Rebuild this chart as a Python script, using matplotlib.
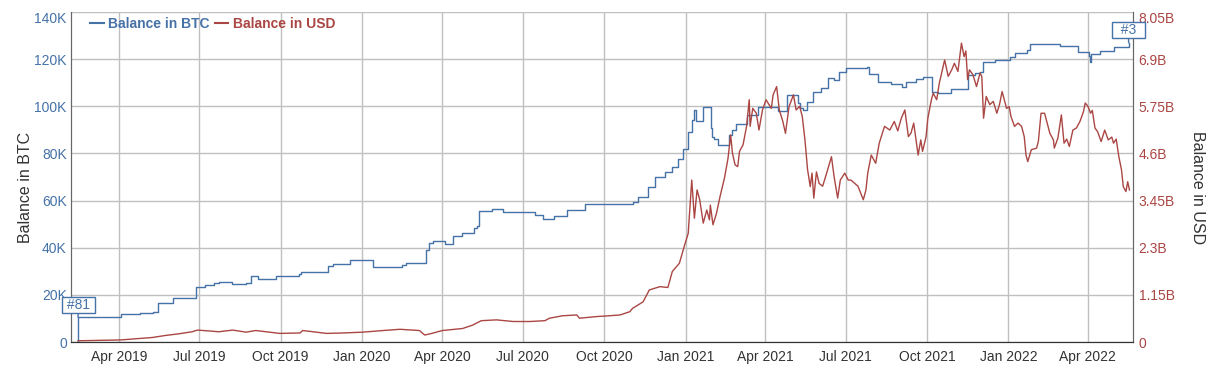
import pandas as pd
import matplotlib
matplotlib.use("Agg")
import matplotlib.pyplot as plt
from matplotlib.dates import MonthLocator, DateFormatter
from matplotlib.ticker import FuncFormatter
from matplotlib.lines import Line2D

plt.rcParams['font.family'] = ['Liberation Sans', 'DejaVu Sans']

# wallet balance in BTC (step changes)
btc_dates = [
    '2019-02-13', '2019-02-14', '2019-03-10', '2019-04-03', '2019-04-25', '2019-05-10', '2019-05-15',
    '2019-06-01', '2019-06-27', '2019-07-07', '2019-07-18', '2019-07-23', '2019-08-07', '2019-08-23',
    '2019-08-29', '2019-09-05', '2019-09-26', '2019-10-22', '2019-10-24', '2019-11-24', '2019-11-29',
    '2019-12-18', '2020-01-14', '2020-02-15', '2020-02-20', '2020-03-13', '2020-03-17', '2020-03-21',
    '2020-04-04', '2020-04-13', '2020-04-23', '2020-05-07', '2020-05-10', '2020-05-12', '2020-05-27',
    '2020-06-09', '2020-07-15', '2020-07-24', '2020-08-05', '2020-08-20', '2020-09-09', '2020-11-03',
    '2020-11-08', '2020-11-19', '2020-11-28', '2020-12-09', '2020-12-17', '2020-12-24', '2020-12-29',
    '2021-01-04', '2021-01-08', '2021-01-10', '2021-01-13', '2021-01-21', '2021-01-30', '2021-01-31',
    '2021-02-02', '2021-02-07', '2021-02-19', '2021-02-23', '2021-02-27', '2021-03-11', '2021-03-24',
    '2021-04-15', '2021-04-26', '2021-05-08', '2021-05-10', '2021-05-14', '2021-05-18', '2021-05-25',
    '2021-06-03', '2021-06-11', '2021-06-18', '2021-06-24', '2021-07-02', '2021-07-14', '2021-07-25',
    '2021-07-27', '2021-08-07', '2021-08-21', '2021-09-03', '2021-09-07', '2021-09-19', '2021-09-26',
    '2021-10-07', '2021-10-13', '2021-10-28', '2021-11-16', '2021-11-24', '2021-11-30', '2021-12-03',
    '2021-12-17', '2022-01-03', '2022-01-09', '2022-01-22', '2022-01-25', '2022-03-01', '2022-03-21',
    '2022-04-02', '2022-04-03', '2022-04-04', '2022-04-05', '2022-04-15', '2022-04-30', '2022-05-17',
]
btc_values = [
    0, 10500, 10800, 11800, 12300, 12900, 16500,
    18500, 23500, 24100, 24900, 25600, 24500, 24900,
    28100, 26600, 28100, 28700, 29700, 32200, 33100,
    34800, 31900, 32600, 33600, 39000, 42100, 43000,
    41600, 45000, 46100, 48200, 49200, 55700, 56300,
    55300, 53800, 52200, 53500, 56000, 58600, 59500,
    61400, 65900, 70100, 72300, 74400, 77500, 81800,
    89200, 94000, 98400, 93900, 99600, 91000, 87100,
    86000, 83600, 87800, 90000, 92500, 96300, 99600,
    98000, 104800, 101500, 99300, 98400, 102000, 106200,
    107600, 111900, 111200, 114700, 116100, 116400, 116600,
    113600, 110500, 109300, 108100, 110500, 111500, 112600,
    106200, 105500, 107200, 113300, 114000, 114700, 118800,
    119700, 120900, 122600, 123900, 126400, 125600, 123200,
    121300, 118900, 121300, 122200, 123600, 125300, 127000,
]

# wallet balance in USD (billions)
usd_dates = [
    '2019-02-14', '2019-04-03', '2019-05-09', '2019-05-24', '2019-06-08', '2019-06-23', '2019-06-29',
    '2019-07-12', '2019-07-23', '2019-08-08', '2019-08-23', '2019-09-03', '2019-09-15', '2019-09-30',
    '2019-10-23', '2019-10-26', '2019-11-22', '2019-12-10', '2020-01-02', '2020-01-25', '2020-02-13',
    '2020-03-06', '2020-03-12', '2020-03-20', '2020-04-01', '2020-04-24', '2020-05-05', '2020-05-15',
    '2020-06-01', '2020-06-20', '2020-07-09', '2020-07-26', '2020-07-31', '2020-08-15', '2020-08-31',
    '2020-09-03', '2020-09-22', '2020-10-07', '2020-10-19', '2020-10-30', '2020-11-02', '2020-11-14',
    '2020-11-21', '2020-12-03', '2020-12-12', '2020-12-17', '2020-12-25', '2020-12-31', '2021-01-04',
    '2021-01-08', '2021-01-11', '2021-01-14', '2021-01-17', '2021-01-21', '2021-01-25', '2021-01-28',
    '2021-01-29', '2021-02-01', '2021-02-05', '2021-02-09', '2021-02-14', '2021-02-18', '2021-02-21',
    '2021-02-23', '2021-02-26', '2021-03-01', '2021-03-03', '2021-03-07', '2021-03-11', '2021-03-14',
    '2021-03-15', '2021-03-18', '2021-03-22', '2021-03-25', '2021-03-29', '2021-04-02', '2021-04-08',
    '2021-04-10', '2021-04-14', '2021-04-17', '2021-04-21', '2021-04-24', '2021-04-28', '2021-05-03',
    '2021-05-06', '2021-05-10', '2021-05-13', '2021-05-16', '2021-05-19', '2021-05-22', '2021-05-24',
    '2021-05-26', '2021-05-29', '2021-06-01', '2021-06-05', '2021-06-09', '2021-06-15', '2021-06-18',
    '2021-06-22', '2021-06-25', '2021-06-30', '2021-07-04', '2021-07-07', '2021-07-15', '2021-07-21',
    '2021-07-24', '2021-07-26', '2021-07-30', '2021-08-04', '2021-08-08', '2021-08-14', '2021-08-20',
    '2021-08-25', '2021-08-29', '2021-09-02', '2021-09-06', '2021-09-10', '2021-09-13', '2021-09-16',
    '2021-09-21', '2021-09-24', '2021-09-26', '2021-09-30', '2021-10-02', '2021-10-06', '2021-10-08',
    '2021-10-12', '2021-10-15', '2021-10-21', '2021-10-25', '2021-10-29', '2021-11-01', '2021-11-05',
    '2021-11-09', '2021-11-12', '2021-11-14', '2021-11-16', '2021-11-18', '2021-11-22', '2021-11-26',
    '2021-11-30', '2021-12-02', '2021-12-04', '2021-12-07', '2021-12-11', '2021-12-15', '2021-12-19',
    '2021-12-22', '2021-12-25', '2021-12-30', '2022-01-02', '2022-01-04', '2022-01-08', '2022-01-12',
    '2022-01-16', '2022-01-19', '2022-01-21', '2022-01-23', '2022-01-27', '2022-02-02', '2022-02-04',
    '2022-02-07', '2022-02-11', '2022-02-14', '2022-02-17', '2022-02-21', '2022-02-22', '2022-02-26',
    '2022-03-02', '2022-03-05', '2022-03-08', '2022-03-11', '2022-03-15', '2022-03-19', '2022-03-23',
    '2022-03-27', '2022-03-29', '2022-04-01', '2022-04-04', '2022-04-06', '2022-04-09', '2022-04-12',
    '2022-04-16', '2022-04-20', '2022-04-24', '2022-04-28', '2022-04-30', '2022-05-03', '2022-05-06',
    '2022-05-09', '2022-05-11', '2022-05-14', '2022-05-16', '2022-05-18',
]
usd_values = [
    0.03, 0.05, 0.11, 0.16, 0.20, 0.25, 0.29,
    0.27, 0.25, 0.29, 0.24, 0.28, 0.25, 0.21,
    0.22, 0.28, 0.21, 0.22, 0.24, 0.28, 0.31,
    0.28, 0.17, 0.21, 0.28, 0.33, 0.41, 0.52,
    0.54, 0.50, 0.50, 0.52, 0.58, 0.64, 0.66,
    0.58, 0.62, 0.64, 0.66, 0.74, 0.82, 0.98,
    1.27, 1.35, 1.33, 1.72, 1.92, 2.37, 2.65,
    3.95, 3.02, 3.71, 3.47, 2.90, 3.22, 2.98,
    3.34, 2.86, 3.14, 3.55, 4.00, 4.48, 5.05,
    4.61, 4.32, 4.28, 4.65, 4.81, 5.26, 5.91,
    5.26, 5.70, 5.58, 5.17, 5.66, 5.91, 5.70,
    6.03, 6.23, 5.66, 5.38, 5.09, 5.74, 6.03,
    5.66, 5.75, 5.50, 4.93, 4.20, 3.79, 4.12,
    3.51, 4.15, 3.87, 3.80, 4.08, 4.52, 4.03,
    3.51, 3.95, 4.12, 3.95, 3.95, 3.80, 3.47,
    3.71, 4.12, 4.56, 4.36, 4.85, 5.26, 5.17,
    5.38, 5.15, 5.46, 5.66, 5.01, 5.10, 5.34,
    4.56, 4.93, 4.65, 5.01, 5.46, 5.91, 6.07,
    5.91, 6.32, 6.88, 6.48, 6.64, 6.80, 6.60,
    7.29, 6.96, 7.10, 6.40, 6.64, 6.52, 6.23,
    6.56, 6.48, 5.46, 5.99, 5.79, 5.87, 5.58,
    5.79, 6.11, 5.70, 5.74, 5.50, 5.26, 5.34,
    5.26, 5.01, 4.56, 4.40, 4.69, 4.73, 4.90,
    5.58, 5.58, 5.34, 5.09, 4.93, 4.73, 4.97,
    5.54, 4.85, 4.95, 4.77, 5.17, 5.22, 5.38,
    5.62, 5.83, 5.75, 5.58, 5.65, 5.22, 5.13,
    4.89, 5.17, 4.93, 5.00, 4.85, 4.95, 4.52,
    4.20, 3.79, 3.67, 3.91, 3.71,
]

btc_ticks = [0, 20000, 40000, 60000, 80000, 100000, 120000, 140000]
usd_ticks_b = [0, 1.15, 2.3, 3.45, 4.6, 5.75, 6.9, 8.05]
flag_labels = [' #81 ', '  #3  ']

blue = '#4572A7'
red = '#AA4643'
grid_c = '#c0c0c0'

btc_x = pd.to_datetime(btc_dates)
usd_x = pd.to_datetime(usd_dates)
usd_y = [v * 1e9 for v in usd_values]

fig = plt.figure(figsize=(12.11, 3.74), dpi=100)
ax = fig.add_axes([71 / 1211, 32 / 374, 1062 / 1211, 330 / 374])
ax2 = ax.twinx()

ax.plot(btc_x, btc_values, color=blue, lw=1.0, drawstyle='steps-post', zorder=3)
ax2.plot(usd_x, usd_y, color=red, lw=1.0, zorder=3)

ax.set_xlim(pd.Timestamp('2019-02-06'), pd.Timestamp('2022-05-22'))
ax.set_ylim(0, btc_ticks[-1])
ax2.set_ylim(0, usd_ticks_b[-1] * 1e9)
ax.set_yticks(btc_ticks)
ax2.set_yticks([t * 1e9 for t in usd_ticks_b])
ax.yaxis.set_major_formatter(FuncFormatter(lambda v, p: '0' if v == 0 else f'{v / 1000:.0f}K'))
ax2.yaxis.set_major_formatter(FuncFormatter(lambda v, p: '0' if v == 0 else f'{round(v / 1e9, 2):g}B'))

ax.xaxis.set_major_locator(MonthLocator(bymonth=[1, 4, 7, 10]))
ax.xaxis.set_major_formatter(DateFormatter('%b %Y'))

ax.grid(True, color=grid_c, lw=1.0)
ax.set_axisbelow(True)
ax.tick_params(axis='x', length=0, pad=6, labelsize=10, labelcolor='#333333')
ax.tick_params(axis='y', length=0, pad=3, labelsize=10, labelcolor=blue)
ax2.tick_params(axis='y', length=0, pad=4, labelsize=10, labelcolor=red)

for a in (ax, ax2):
    a.spines['top'].set_visible(False)
    a.spines['left'].set_color('#666666')
    a.spines['right'].set_color('#666666')
    a.spines['bottom'].set_color('#333333')

# top tick labels sit inside the plot height
ax.get_yticklabels()[-1].set_va('top')
ax2.get_yticklabels()[-1].set_va('top')

ax.set_ylabel('Balance in BTC', fontsize=11.5, color='#333333', va='center')
ax.yaxis.set_label_coords(-0.0433, 0.467)
ax2.set_ylabel('Balance in USD', fontsize=11.5, color='#333333', rotation=-90, va='center')
ax2.yaxis.set_label_coords(1.0603, 0.468)

handles = [Line2D([], [], color=blue, lw=1.5), Line2D([], [], color=red, lw=1.5)]
leg = ax.legend(handles, ['Balance in BTC', 'Balance in USD'], loc='center left',
                bbox_to_anchor=(0.018, 0.9636), ncol=2, frameon=False, handlelength=1.0,
                handletextpad=0.3, columnspacing=0.35, borderaxespad=0, borderpad=0,
                prop={'weight': 'bold', 'size': 10})
for t, c in zip(leg.get_texts(), [blue, red]):
    t.set_color(c)

# flags on the first and last BTC points
for lbl, xi, yi in [(flag_labels[0], btc_x[1], btc_values[1]), (flag_labels[1], btc_x[-1], btc_values[-1])]:
    ax2.annotate(lbl, xy=(xi, yi * ax2.get_ylim()[1] / ax.get_ylim()[1]), xytext=(0, 9),
                 textcoords='offset points', ha='center', va='center', fontsize=10, color=blue,
                 bbox=dict(boxstyle='square,pad=0.08', fc='white', ec=blue, lw=1.0),
                 arrowprops=dict(arrowstyle='-', color=blue, lw=1.0, shrinkA=0, shrinkB=0),
                 zorder=5, annotation_clip=False)

fig.savefig('out.png', dpi=100)
